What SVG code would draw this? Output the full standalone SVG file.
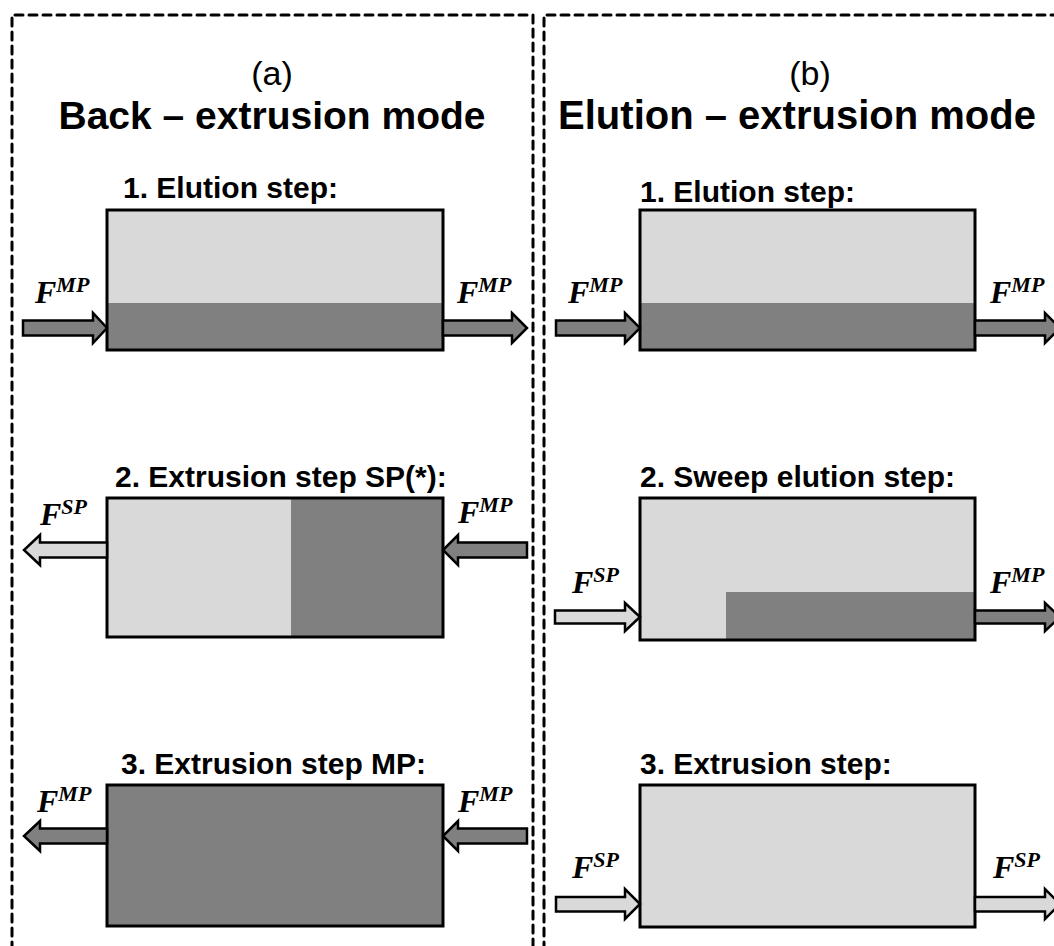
<svg xmlns="http://www.w3.org/2000/svg" width="1054" height="946" viewBox="0 0 1054 946">
<style>
.frame{fill:none;stroke:#000;stroke-width:3;stroke-dasharray:8 6;stroke-linecap:round;stroke-linejoin:round}
.box{stroke:#000;stroke-width:3}
.lt{fill:#d9d9d9}
.dk{fill:#808080}
.arr{stroke:#000;stroke-width:2.5;stroke-linejoin:miter}
.ttl{font-family:"Liberation Sans",Arial,sans-serif;font-size:40px;font-weight:bold;text-anchor:middle}
.lbl{font-family:"Liberation Sans",Arial,sans-serif;font-size:34px;text-anchor:middle}
.step{font-family:"Liberation Sans",Arial,sans-serif;font-size:30px;font-weight:bold}
.f{font-family:"Liberation Serif","Times New Roman",serif;font-size:32px;font-weight:bold;font-style:italic}
.sup{font-size:22px}
</style>
<g id="frames">
<path class="frame" d="M12,950 V15 H533 V950"/>
<path class="frame" d="M544,950 V15 H1060"/>
</g>
<g id="titles">
<text class="lbl" x="272" y="85">(a)</text>
<text class="ttl" x="272" y="129" style="font-size:39px">Back – extrusion mode</text>
<text class="lbl" x="810" y="85">(b)</text>
<text class="ttl" x="797" y="129">Elution – extrusion mode</text>
</g>
<g id="a1">
<text class="step" x="123" y="198">1. Elution step:</text>
<rect class="lt" x="107" y="210" width="336" height="140"/>
<rect class="dk" x="107" y="303" width="336" height="47"/>
<rect class="box" x="107" y="210" width="336" height="140" fill="none"/>
</g>
<g id="a2">
<text class="step" x="115" y="487">2. Extrusion step SP(*):</text>
<rect class="lt" x="107" y="498" width="336" height="139"/>
<rect class="dk" x="291" y="498" width="152" height="139"/>
<rect class="box" x="107" y="498" width="336" height="139" fill="none"/>
</g>
<g id="a3">
<text class="step" x="121" y="774">3. Extrusion step MP:</text>
<rect class="dk box" x="107" y="785" width="336" height="141"/>
</g>
<g id="b1">
<text class="step" x="640" y="202">1. Elution step:</text>
<rect class="lt" x="640" y="210" width="335" height="140"/>
<rect class="dk" x="640" y="303" width="335" height="47"/>
<rect class="box" x="640" y="210" width="335" height="140" fill="none"/>
</g>
<g id="b2">
<text class="step" x="640" y="487">2. Sweep elution step:</text>
<rect class="lt" x="640" y="498" width="335" height="142"/>
<rect class="dk" x="726" y="592" width="249" height="48"/>
<rect class="box" x="640" y="498" width="335" height="142" fill="none"/>
</g>
<g id="b3">
<text class="step" x="640" y="774">3. Extrusion step:</text>
<rect class="lt box" x="640" y="785" width="335" height="142"/>
</g>
<g id="connectors">
<polygon class="arr dk" points="23,320.5 93,320.5 93,313 107,328 93,343 93,335.5 23,335.5"/>
<polygon class="arr dk" points="443,320.5 512,320.5 512,313 527,328 512,343 512,335.5 443,335.5"/>
<polygon class="arr dk" points="556,320.5 625,320.5 625,313 640,328 625,343 625,335.5 556,335.5"/>
<polygon class="arr dk" points="975,320.5 1045,320.5 1045,313 1060,328 1045,343 1045,335.5 975,335.5"/>
<polygon class="arr lt" points="107,542.5 40,542.5 40,535 24,550 40,565 40,557.5 107,557.5"/>
<polygon class="arr dk" points="527,542.5 458,542.5 458,535 443,550 458,565 458,557.5 527,557.5"/>
<polygon class="arr lt" points="555,610.5 625,610.5 625,603 640,617 625,631 625,623.5 555,623.5"/>
<polygon class="arr dk" points="975,610.5 1045,610.5 1045,603 1060,617 1045,631 1045,623.5 975,623.5"/>
<polygon class="arr dk" points="107,828.5 40,828.5 40,821 24,836 40,851 40,843.5 107,843.5"/>
<polygon class="arr dk" points="527,828.5 458,828.5 458,821 443,836 458,851 458,843.5 527,843.5"/>
<polygon class="arr lt" points="556,897 625,897 625,889 640,904 625,919 625,911.5 556,911.5"/>
<polygon class="arr lt" points="975,897 1045,897 1045,889 1060,904 1045,919 1045,911.5 975,911.5"/>
</g>
<g id="flow-labels">
<text class="f" x="35" y="303">F<tspan class="sup" dy="-11">MP</tspan></text>
<text class="f" x="457" y="303">F<tspan class="sup" dy="-11">MP</tspan></text>
<text class="f" x="568" y="303">F<tspan class="sup" dy="-11">MP</tspan></text>
<text class="f" x="990" y="303">F<tspan class="sup" dy="-11">MP</tspan></text>
<text class="f" x="40" y="525">F<tspan class="sup" dy="-11">SP</tspan></text>
<text class="f" x="458" y="523">F<tspan class="sup" dy="-11">MP</tspan></text>
<text class="f" x="572" y="593">F<tspan class="sup" dy="-11">SP</tspan></text>
<text class="f" x="990" y="593">F<tspan class="sup" dy="-11">MP</tspan></text>
<text class="f" x="37" y="812">F<tspan class="sup" dy="-11">MP</tspan></text>
<text class="f" x="458" y="812">F<tspan class="sup" dy="-11">MP</tspan></text>
<text class="f" x="572" y="878">F<tspan class="sup" dy="-11">SP</tspan></text>
<text class="f" x="993" y="878">F<tspan class="sup" dy="-11">SP</tspan></text>
</g>
</svg>
